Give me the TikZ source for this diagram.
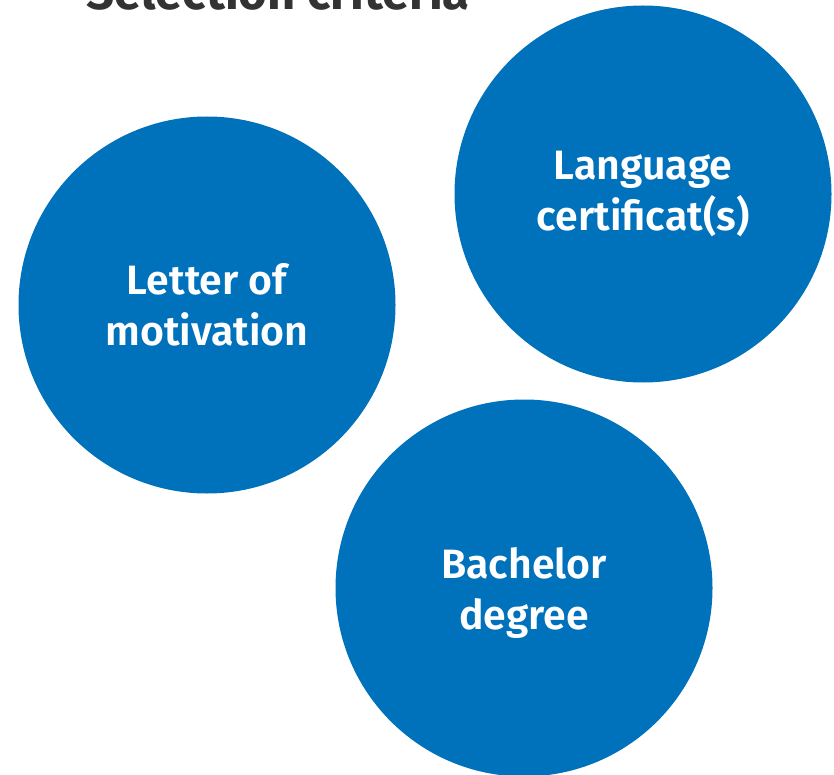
\documentclass[tikz,border=0pt]{standalone}
\usepackage{fontspec}
\setmainfont{Fira Sans}[BoldFont={Fira Sans SemiBold}]
\newfontfamily\titlefont{Fira Sans Bold}
\definecolor{cblue}{HTML}{0071BB}
\definecolor{tgray}{HTML}{333333}
\begin{document}
\begin{tikzpicture}[x=1pt,y=-1pt,
  critfont/.style={text=white,font=\fontsize{41}{51}\selectfont\bfseries,align=center},
  crit/.style={circle,fill=cblue,minimum size=377pt,inner sep=0pt,critfont}]
\useasboundingbox (0,0) rectangle (834,775);
\node[anchor=base west,text=tgray,font=\fontsize{49}{52}\titlefont,inner sep=0pt] (title) at (86,10) {Selection criteria};
\node[crit] (motiv) at (207,305) {Letter of\\motivation};
\node[crit] (lang) at (643,194) {Language\\certificat(s)};
\node[crit] (bach) at (524,588) {};
\node[critfont,inner sep=0pt] (bachtxt) at (524,593) {Bachelor\\degree};
\end{tikzpicture}
\end{document}
